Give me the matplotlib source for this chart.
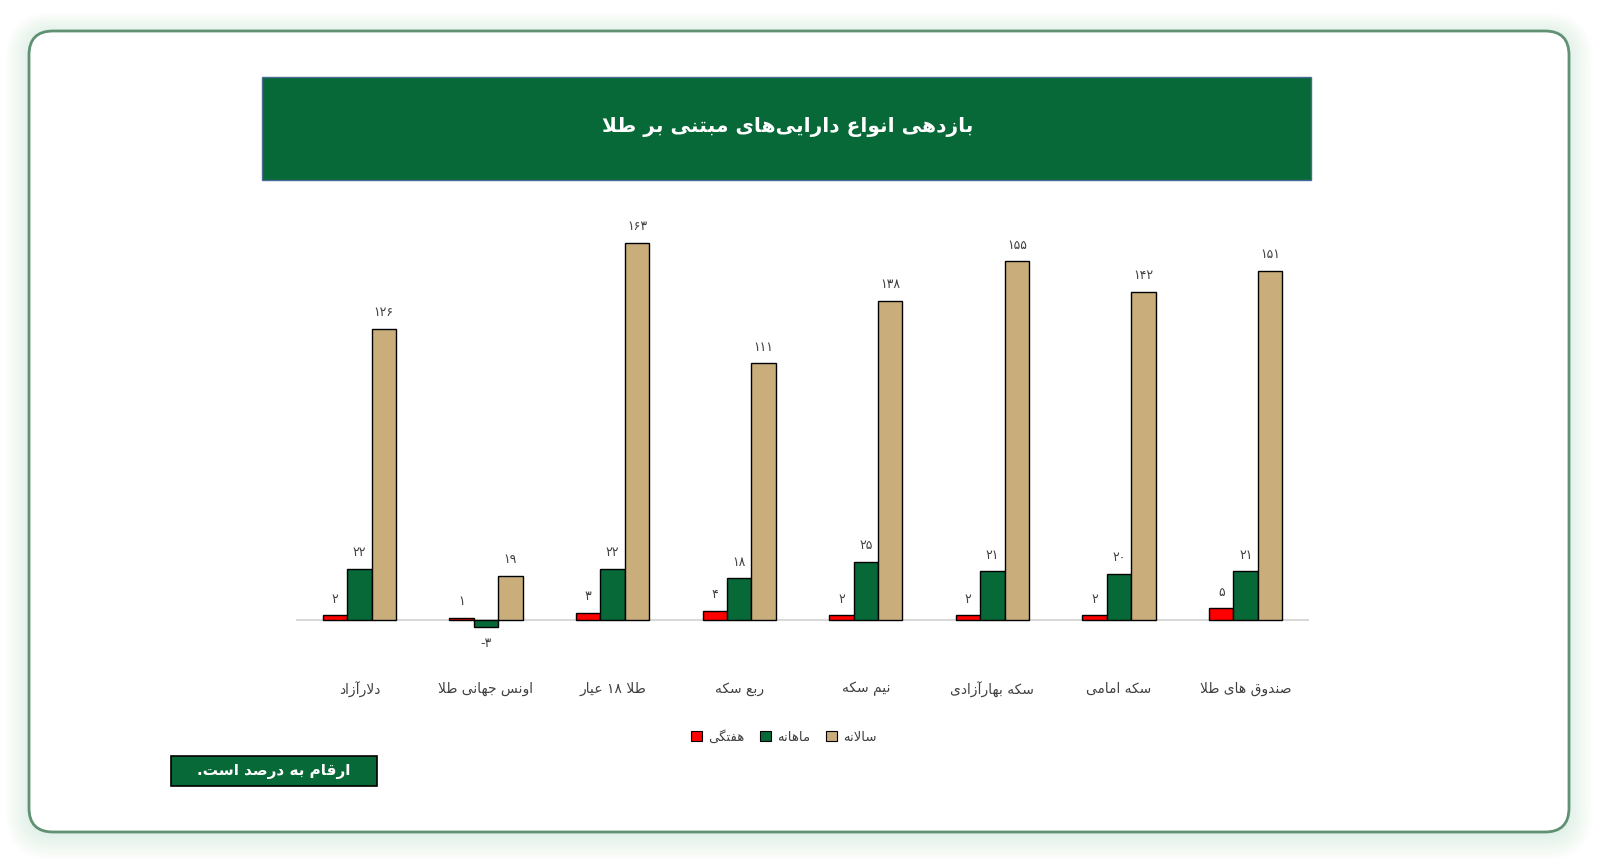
import re
import matplotlib
matplotlib.use("Agg")
import matplotlib.pyplot as plt
from matplotlib.patches import FancyBboxPatch, Rectangle, Patch
import numpy as np

# data
categories = ["دلارآزاد", "اونس جهانی طلا", "طلا ۱۸ عیار", "ربع سکه",
              "نیم سکه", "سکه بهارآزادی", "سکه امامی", "صندوق های طلا"]
weekly = [2, 1, 3, 4, 2, 2, 2, 5]
monthly = [22, -3, 22, 18, 25, 21, 20, 21]
yearly = [126, 19, 163, 111, 138, 155, 142, 151]
series_names = ["هفتگی", "ماهانه", "سالانه"]
title = "بازدهی انواع دارایی‌های مبتنی بر طلا"
note = "ارقام به درصد است."

# simple persian shaping (matplotlib has no text shaping)
FORMS = {
    'ا': ('\uFE8D', '\uFE8E'), 'آ': ('\uFE81', '\uFE82'), 'د': ('\uFEA9', '\uFEAA'),
    'ر': ('\uFEAD', '\uFEAE'), 'ز': ('\uFEAF', '\uFEB0'), 'و': ('\uFEED', '\uFEEE'),
    'ب': ('\uFE8F', '\uFE90', '\uFE91', '\uFE92'), 'ت': ('\uFE95', '\uFE96', '\uFE97', '\uFE98'),
    'ج': ('\uFE9D', '\uFE9E', '\uFE9F', '\uFEA0'), 'س': ('\uFEB1', '\uFEB2', '\uFEB3', '\uFEB4'),
    'ص': ('\uFEB9', '\uFEBA', '\uFEBB', '\uFEBC'), 'ط': ('\uFEC1', '\uFEC2', '\uFEC3', '\uFEC4'),
    'ع': ('\uFEC9', '\uFECA', '\uFECB', '\uFECC'), 'ف': ('\uFED1', '\uFED2', '\uFED3', '\uFED4'),
    'ق': ('\uFED5', '\uFED6', '\uFED7', '\uFED8'), 'ل': ('\uFEDD', '\uFEDE', '\uFEDF', '\uFEE0'),
    'م': ('\uFEE1', '\uFEE2', '\uFEE3', '\uFEE4'), 'ن': ('\uFEE5', '\uFEE6', '\uFEE7', '\uFEE8'),
    'ه': ('\uFEE9', '\uFEEA', '\uFEEB', '\uFEEC'), 'ی': ('\uFBFC', '\uFBFD', '\uFBFE', '\uFBFF'),
    'ک': ('\uFB8E', '\uFB8F', '\uFB90', '\uFB91'), 'گ': ('\uFB92', '\uFB93', '\uFB94', '\uFB95'),
}
LAMALEF = {'ا': ('\uFEFB', '\uFEFC'), 'آ': ('\uFEF5', '\uFEF6')}


def fa(s):
    out = []
    i = 0
    n = len(s)
    while i < n:
        c = s[i]
        if c not in FORMS:
            if c != '\u200c':
                out.append(c)
            i += 1
            continue
        prev = s[i - 1] if i > 0 else ''
        pj = prev in FORMS and len(FORMS[prev]) == 4
        if c == 'ل' and i + 1 < n and s[i + 1] in LAMALEF:
            out.append(LAMALEF[s[i + 1]][1 if pj else 0])
            i += 2
            continue
        f = FORMS[c]
        nxt = s[i + 1] if i + 1 < n else ''
        nj = len(f) == 4 and nxt in FORMS
        if pj and nj:
            out.append(f[3])
        elif pj:
            out.append(f[1])
        elif nj:
            out.append(f[2])
        else:
            out.append(f[0])
        i += 1
    vis = ''.join(out)[::-1]
    return re.sub(r'[۰-۹]+', lambda m: m.group(0)[::-1], vis)


def fanum(v):
    return str(v).translate(str.maketrans('0123456789', '۰۱۲۳۴۵۶۷۸۹'))


plt.rcParams['font.family'] = ['DejaVu Sans']
W, H = 1600, 863
fig = plt.figure(figsize=(16, 8.63), dpi=100)
fig.patch.set_facecolor('white')

bg = fig.add_axes([0, 0, 1, 1], zorder=0)
bg.set_xlim(0, W)
bg.set_ylim(H, 0)
bg.axis('off')

# soft shadow around card
for k in range(14, 0, -1):
    bg.add_patch(FancyBboxPatch((29 - k * 1.7, 33 - k * 1.5), 1540 + k * 3.4, 801 + k * 3.4,
                                boxstyle="round,pad=0,rounding_size=%d" % (24 + k * 1.7),
                                fc='#5a9a75', ec='none', alpha=0.009))
bg.add_patch(FancyBboxPatch((29, 31), 1540, 801, boxstyle="round,pad=0,rounding_size=24",
                            fc='white', ec='#5f9172', lw=2))

# title banner
bg.add_patch(Rectangle((262, 77), 1049, 103, fc='#076838', ec='#4a6a98', lw=1))
bg.text(788, 127, fa(title), color='white', fontsize=14.5, fontweight='bold',
        ha='center', va='center')

# note box
bg.add_patch(Rectangle((171, 756), 206, 30, fc='#076838', ec='black', lw=1.2))
bg.text(274, 771, fa(note), color='white', fontsize=11, fontweight='bold',
        ha='center', va='center')

# bar chart
ax = fig.add_axes([296 / W, 0.2548, (1309 - 296) / W, 0.4824], zorder=2)
ax.patch.set_alpha(0)
x = np.arange(len(categories))
w = 0.193
colors = ['#ff0000', '#076838', '#c9ad7a']
for j, (vals, col) in enumerate(zip([weekly, monthly, yearly], colors)):
    xs = x + (j - 1) * w
    ax.bar(xs, vals, w, color=col, edgecolor='black', linewidth=1, zorder=3)
    for xi, v in zip(xs, vals):
        if v >= 0:
            ax.annotate(fanum(v), (xi, v), xytext=(0, 7), textcoords='offset points',
                        ha='center', va='bottom', fontsize=9, color='#404040')
        else:
            ax.annotate('-' + fanum(-v), (xi, v), xytext=(0, -7), textcoords='offset points',
                        ha='center', va='top', fontsize=9, color='#404040')

ax.axhline(0, color='#d9d9d9', lw=1.5, zorder=2)
ax.set_xlim(-0.5, len(categories) - 0.5)
ax.set_ylim(-10, 170)
for sp in ax.spines.values():
    sp.set_visible(False)
ax.set_yticks([])
ax.set_xticks(x)
ax.set_xticklabels([fa(c) for c in categories], fontsize=10, color='#404040')
ax.tick_params(axis='x', length=0, pad=28)

handles = [Patch(fc=c, ec='black', lw=0.8) for c in colors]
fig.legend(handles, [fa(s) for s in series_names], loc='center', bbox_to_anchor=(784 / W, 1 - 737 / H),
           ncol=3, frameon=False, fontsize=9.5, handlelength=0.8, handleheight=0.8,
           handletextpad=0.5, columnspacing=1.2, labelcolor='#404040')

fig.savefig("out.png", dpi=100)
